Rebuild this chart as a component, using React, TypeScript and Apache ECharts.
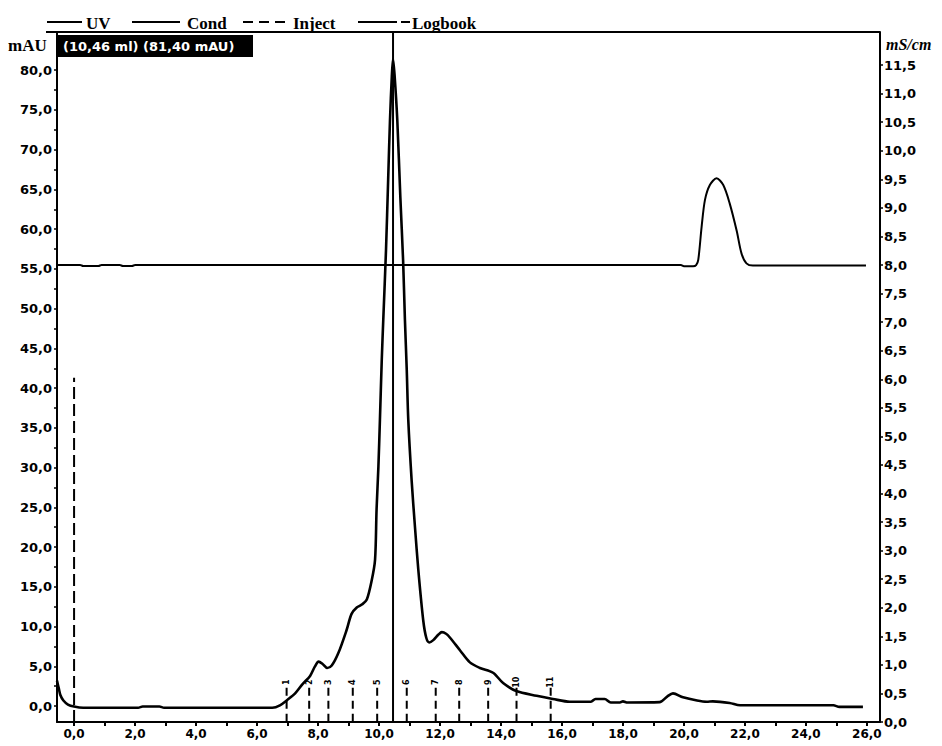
import React, { useEffect, useRef } from "react";
import * as echarts from "echarts";

// UV absorbance trace (ml, mAU)
const uvMl = [
  -0.56, -0.5, -0.45, -0.35, -0.2, 0.0, 0.3, 2.1, 2.25, 2.8, 2.95, 6.5, 6.75, 7.0, 7.25, 7.5, 7.74, 7.9,
  8.02, 8.15, 8.3, 8.45, 8.67, 8.94, 9.1, 9.27, 9.45, 9.6, 9.76, 9.87, 9.92, 9.98, 10.03, 10.09, 10.14,
  10.23, 10.3, 10.36, 10.42, 10.46, 10.51, 10.6, 10.7, 10.79, 10.85, 10.91, 10.96, 11.07, 11.18, 11.29,
  11.45, 11.55, 11.65, 11.78, 11.95, 12.06, 12.2, 12.33, 12.66, 12.98, 13.31, 13.74, 14.07, 14.5, 15.17,
  15.7, 16.26, 16.95, 17.1, 17.4, 17.6, 17.9, 18.0, 18.15, 19.2, 19.45, 19.64, 19.97, 20.43, 20.75,
  20.95, 21.5, 21.84, 24.9, 25.1, 25.87,
];
const uvMau = [
  3.2, 2.2, 1.4, 0.7, 0.2, -0.05, -0.2, -0.2, -0.05, -0.05, -0.2, -0.2, 0.1, 0.8, 1.6, 2.8, 3.8, 5.0,
  5.6, 5.3, 4.8, 5.1, 6.7, 9.6, 11.6, 12.4, 12.8, 13.4, 15.8, 18.4, 24.7, 30.1, 36.0, 43.5, 48.6,
  57.4, 66.2, 73.7, 79.2, 81.4, 79.4, 73.7, 64.0, 56.1, 48.6, 42.3, 36.0, 28.4, 22.5, 17.1,
  10.8, 8.6, 8.0, 8.3, 9.0, 9.3, 9.1, 8.6, 7.0, 5.5, 4.8, 4.2, 2.9, 1.9, 1.3,
  0.9, 0.55, 0.55, 0.9, 0.9, 0.45, 0.45, 0.6, 0.45, 0.5, 1.2, 1.6, 1.1, 0.7, 0.55,
  0.6, 0.4, 0.1, 0.1, -0.1, -0.1,
];

// Conductivity trace (ml, mS/cm)
const condMl = [
  -0.56, 0.2, 0.3, 0.8, 0.9, 1.5, 1.6, 1.9, 2.0, 19.9, 20.0, 20.3, 20.4, 20.47, 20.58, 20.69, 20.85,
  21.07, 21.29, 21.5, 21.73, 21.89, 22.05, 22.26, 25.97,
];
const condMs = [
  8.0, 8.0, 7.985, 7.985, 8.0, 8.0, 7.985, 7.985, 8.0, 8.0, 7.98, 7.98, 8.0, 8.09, 8.67, 9.14, 9.4,
  9.52, 9.4, 9.08, 8.6, 8.2, 8.03, 7.99, 7.99,
];

// Fraction marks
const fractionMl = [6.97, 7.71, 8.34, 9.14, 9.94, 10.91, 11.86, 12.63, 13.58, 14.51, 15.63];
const fractionNames = ["1", "2", "3", "4", "5", "6", "7", "8", "9", "10", "11"];

// Injection mark and cursor readout
const injectMl = 0;
const injectTopMau = 41.3;
const cursorMl = 10.46;
const cursorMau = 81.4;

// Axis ticks and labels
const mlLabels = [0, 2, 4, 6, 8, 10, 12, 14, 16, 18, 20, 22, 24, 26];
const mlTicks = [0, 1, 2, 3, 4, 5, 6, 7, 8, 9, 10, 11, 12, 13, 14, 15, 16, 17, 18, 19, 20, 21, 22, 23, 24, 25, 26];
const mauLabels = [0, 5, 10, 15, 20, 25, 30, 35, 40, 45, 50, 55, 60, 65, 70, 75, 80];
const mauTicks = [
  0, 2.5, 5, 7.5, 10, 12.5, 15, 17.5, 20, 22.5, 25, 27.5, 30, 32.5, 35, 37.5, 40, 42.5, 45, 47.5, 50,
  52.5, 55, 57.5, 60, 62.5, 65, 67.5, 70, 72.5, 75, 77.5, 80,
];
const condLabels = [0, 0.5, 1, 1.5, 2, 2.5, 3, 3.5, 4, 4.5, 5, 5.5, 6, 6.5, 7, 7.5, 8, 8.5, 9, 9.5, 10, 10.5, 11, 11.5];

const X_MIN = -0.56;
const X_MAX = 26.43;
const MAU_MIN = -2;
const MAU_MAX = 84.8;
const MS_MIN = 0;
const MS_MAX = 12.08;

const fmt = (v: number) => v.toFixed(1).replace(".", ",");
const pct = (v: number) => v.toFixed(2).replace(".", ",");

const tickFont = {
  color: "#000",
  fontFamily: "DejaVu Sans",
  fontWeight: "bold" as const,
  fontSize: 13,
};
const serifBold = "Liberation Serif";

export default function App() {
  const ref = useRef<HTMLDivElement>(null);

  useEffect(() => {
    if (!ref.current) return;
    const chart = echarts.init(ref.current, undefined, { renderer: "svg" });

    const uvData = uvMl.map((x, i) => [x, uvMau[i]]);
    const condData = condMl.map((x, i) => [x, condMs[i]]);
    const fracData = fractionMl.map((x, i) => [x, i]);

    const legendY = 22;
    const legendText = (x: number, text: string) => ({
      type: "text",
      x,
      y: legendY + 1,
      style: {
        text,
        fill: "#000",
        font: `bold 17px "${serifBold}"`,
        textVerticalAlign: "middle",
      },
    });
    const legendLine = (x1: number, x2: number, dash?: number[]) => ({
      type: "line",
      shape: { x1, y1: legendY, x2, y2: legendY },
      style: { stroke: "#000", lineWidth: 2, lineDash: dash },
    });

    const option: any = {
      animation: false,
      backgroundColor: "#ffffff",
      grid: { left: 57, right: 62, top: 32, bottom: 24, containLabel: false },
      xAxis: {
        type: "value",
        min: X_MIN,
        max: X_MAX,
        axisLine: { show: true, onZero: false, lineStyle: { color: "#000", width: 2 } },
        axisTick: { show: true, customValues: mlTicks, length: 4, lineStyle: { color: "#000", width: 2 } },
        axisLabel: { ...tickFont, fontSize: 12, customValues: mlLabels, formatter: fmt, margin: 6 },
        splitLine: { show: false },
      },
      yAxis: [
        {
          type: "value",
          position: "left",
          min: MAU_MIN,
          max: MAU_MAX,
          axisLine: { show: true, onZero: false, lineStyle: { color: "#000", width: 2 } },
          axisTick: { show: true, customValues: mauTicks, length: 3, lineStyle: { color: "#000", width: 1.5 } },
          axisLabel: { ...tickFont, customValues: mauLabels, formatter: fmt, margin: 5 },
          splitLine: { show: false },
        },
        {
          type: "value",
          position: "right",
          min: MS_MIN,
          max: MS_MAX,
          axisLine: { show: true, onZero: false, lineStyle: { color: "#000", width: 2 } },
          axisTick: { show: true, customValues: condLabels, length: 3, lineStyle: { color: "#000", width: 1.5 } },
          axisLabel: { ...tickFont, customValues: condLabels, formatter: fmt, margin: 4 },
          splitLine: { show: false },
        },
      ],
      series: [
        {
          name: "Cond",
          type: "line",
          yAxisIndex: 1,
          data: condData,
          showSymbol: false,
          symbol: "none",
          smooth: 0.3,
          lineStyle: { color: "#000", width: 2 },
          z: 2,
        },
        {
          name: "UV",
          type: "line",
          yAxisIndex: 0,
          data: uvData,
          showSymbol: false,
          symbol: "none",
          smooth: 0.3,
          lineStyle: { color: "#000", width: 2.6 },
          z: 3,
        },
        {
          name: "Inject",
          type: "line",
          yAxisIndex: 0,
          data: [
            [injectMl, MAU_MIN],
            [injectMl, injectTopMau],
          ],
          symbol: "none",
          lineStyle: { color: "#000", width: 2, type: [12, 5] },
          z: 2,
        },
        {
          name: "Logbook",
          type: "line",
          yAxisIndex: 0,
          data: [
            [cursorMl, MAU_MIN],
            [cursorMl, MAU_MAX],
          ],
          symbol: "none",
          lineStyle: { color: "#000", width: 2 },
          z: 2,
        },
        {
          name: "Fractions",
          type: "custom",
          yAxisIndex: 0,
          data: fracData,
          clip: false,
          renderItem: (params: any, api: any) => {
            const x = api.value(0);
            const idx = api.value(1);
            const top = api.coord([x, 2.3]);
            const bot = api.coord([x, MAU_MIN]);
            const lab = api.coord([x, 3.0]);
            return {
              type: "group",
              children: [
                {
                  type: "line",
                  shape: { x1: top[0], y1: top[1], x2: bot[0], y2: bot[1] },
                  style: { stroke: "#000", lineWidth: 2, lineDash: [8, 5] },
                },
                {
                  type: "text",
                  x: lab[0],
                  y: lab[1],
                  rotation: Math.PI / 2,
                  style: {
                    text: fractionNames[idx],
                    fill: "#000",
                    font: `bold 8px "DejaVu Sans"`,
                    textAlign: "center",
                    textVerticalAlign: "middle",
                  },
                },
              ],
            };
          },
          z: 4,
        },
      ],
      graphic: [
        // top frame line
        {
          type: "line",
          shape: { x1: 46, y1: 32, x2: 880, y2: 32 },
          style: { stroke: "#000", lineWidth: 2 },
        },
        legendLine(47, 82),
        legendText(86, "UV"),
        legendLine(132, 180),
        legendText(187, "Cond"),
        legendLine(243, 290, [10, 6]),
        legendText(293, "Inject"),
        legendLine(358, 397),
        legendLine(401, 410),
        legendText(412, "Logbook"),
        // axis units
        {
          type: "text",
          x: 8,
          y: 45,
          style: { text: "mAU", fill: "#000", font: `bold 17px "${serifBold}"`, textVerticalAlign: "middle" },
        },
        {
          type: "text",
          x: 886,
          y: 44,
          style: {
            text: "mS/cm",
            fill: "#000",
            font: `italic bold 16px "${serifBold}"`,
            textVerticalAlign: "middle",
          },
        },
        // cursor readout box
        {
          type: "rect",
          shape: { x: 57, y: 35, width: 196, height: 22 },
          style: { fill: "#000" },
          z: 10,
        },
        {
          type: "text",
          x: 63,
          y: 46,
          z: 11,
          style: {
            text: `(${pct(cursorMl)} ml) (${pct(cursorMau)} mAU)`,
            fill: "#fff",
            font: `bold 13px "DejaVu Sans"`,
            textVerticalAlign: "middle",
          },
        },
      ],
    };

    chart.setOption(option);
    return () => chart.dispose();
  }, []);

  return (
    <div
      ref={ref}
      style={{ position: "fixed", left: 0, top: 0, width: 942, height: 746, background: "#fff" }}
    />
  );
}
